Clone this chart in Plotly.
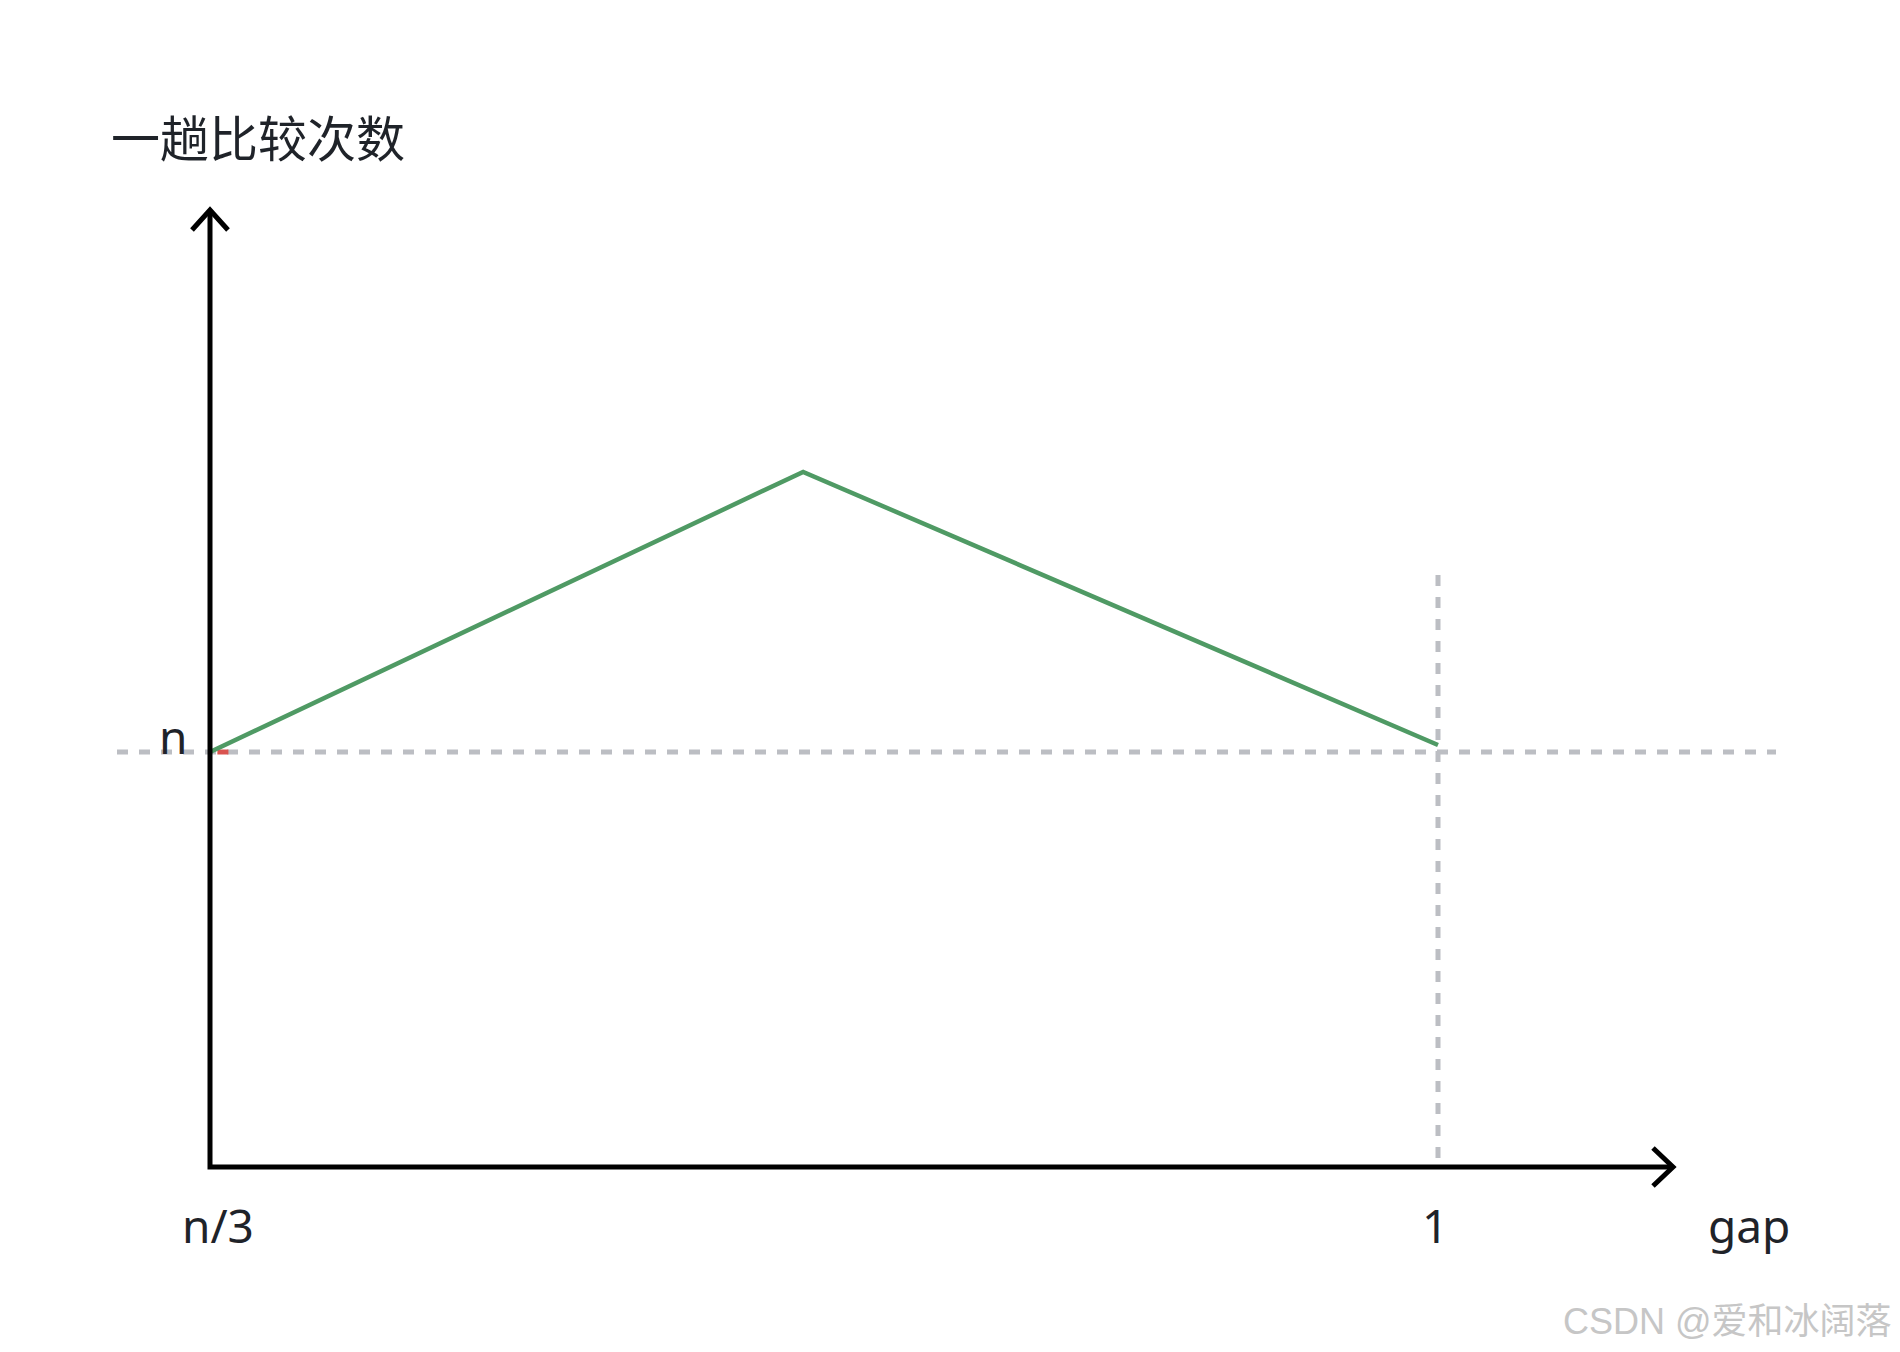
import plotly.graph_objects as go

# ---- data (normalised: x 0 -> gap=n/3, x 1 -> gap=1 ; y 1 -> n comparisons) ----
curve_x = [0.0, 0.483, 1.0]
curve_y = [1.0, 1.675, 1.017]
red_mark_x = [0.006, 0.015]
red_mark_y = [1.0, 1.0]
x_tick_pos = [0.0, 1.0]
x_tick_text = ["n/3", "1"]
y_tick_pos = [1.0]
y_tick_text = ["n"]
ref_h_y = 1.0
ref_v_x = 1.0
x_axis_title = "gap"
y_axis_title = "一趟比较次数"
watermark = "CSDN @爱和冰阔落"

# ---- layout geometry (pixels, as seen on the page; the page body adds an 8px margin) ----
W, H = 1900, 1352
PAGE = 8
OX, OY = 210 - PAGE, 1167 - PAGE   # origin in figure pixels
SX = 1228                          # pixels per x unit
SY = 415                           # pixels per y unit
xr = [(0 - OX) / SX, (W - OX) / SX]
yr = [(OY - H) / SY, OY / SY]

def dx(px):
    return px / SX

def dy(px):
    return px / SY

x_axis_end = dx(1673 - 210)
y_axis_end = dy(1167 - 210)

fig = go.Figure()

# dashed reference lines
fig.add_trace(go.Scatter(
    x=[dx(117 - 210), dx(1776 - 210)], y=[ref_h_y, ref_h_y], mode="lines",
    line=dict(color="#bcbec3", width=5, dash="11px,11px"),
    hoverinfo="skip", showlegend=False))
fig.add_trace(go.Scatter(
    x=[ref_v_x, ref_v_x], y=[dy(1167 - 575), 0], mode="lines",
    line=dict(color="#bcbec3", width=5, dash="11px,11px"),
    hoverinfo="skip", showlegend=False))

# small red mark
fig.add_trace(go.Scatter(
    x=red_mark_x, y=red_mark_y, mode="lines",
    line=dict(color="#d9534f", width=5),
    hoverinfo="skip", showlegend=False))

# green curve
fig.add_trace(go.Scatter(
    x=curve_x, y=curve_y, mode="lines",
    line=dict(color="#4f9a64", width=4.5),
    hoverinfo="skip", showlegend=False))

# axes with arrowheads
shapes = [
    dict(type="path", xref="x", yref="y",
         path=f"M {x_axis_end},0 L 0,0 L 0,{y_axis_end}",
         line=dict(color="#000000", width=5)),
    dict(type="path", xref="x", yref="y",
         path=(f"M {x_axis_end - dx(20)},{dy(19)} L {x_axis_end},0 "
               f"L {x_axis_end - dx(20)},{-dy(19)}"),
         line=dict(color="#000000", width=5)),
    dict(type="path", xref="x", yref="y",
         path=(f"M {-dx(18)},{y_axis_end - dy(20)} L 0,{y_axis_end} "
               f"L {dx(18)},{y_axis_end - dy(20)}"),
         line=dict(color="#000000", width=5)),
]

label_font = dict(family="Noto Sans, Noto Sans CJK SC", size=46, color="#1f2329")
annotations = []
for xp, t in zip(x_tick_pos, x_tick_text):
    annotations.append(dict(x=xp, y=0, xref="x", yref="y", text=t, showarrow=False,
                            xanchor="center", yanchor="middle",
                            xshift=8 if t == "n/3" else -3, yshift=-58, font=label_font))
for yp, t in zip(y_tick_pos, y_tick_text):
    annotations.append(dict(x=0, y=yp, xref="x", yref="y", text=t, showarrow=False,
                            xanchor="center", yanchor="middle",
                            xshift=-37, yshift=16, font=label_font))
annotations.append(dict(x=x_axis_end, y=0, xref="x", yref="y", text=x_axis_title,
                        showarrow=False, xanchor="center", yanchor="middle",
                        xshift=76, yshift=-58, font=label_font))
annotations.append(dict(x=0, y=y_axis_end, xref="x", yref="y", text=y_axis_title,
                        showarrow=False, xanchor="center", yanchor="middle",
                        xshift=48, yshift=75,
                        font=dict(family="Noto Sans CJK SC", size=49, color="#1f2329")))
annotations.append(dict(x=(1894 - PAGE) / W, y=1 - (1321 - PAGE) / H,
                        xref="paper", yref="paper", text=watermark,
                        showarrow=False, xanchor="right", yanchor="middle",
                        font=dict(family="Liberation Sans, Noto Sans CJK SC", size=36,
                                  color="#c6c6c6")))

fig.update_layout(
    width=W, height=H,
    margin=dict(l=0, r=0, t=0, b=0),
    paper_bgcolor="white", plot_bgcolor="white",
    xaxis=dict(range=xr, visible=False, fixedrange=True),
    yaxis=dict(range=yr, visible=False, fixedrange=True),
    shapes=shapes, annotations=annotations, showlegend=False,
)

fig.write_html("out.html")
